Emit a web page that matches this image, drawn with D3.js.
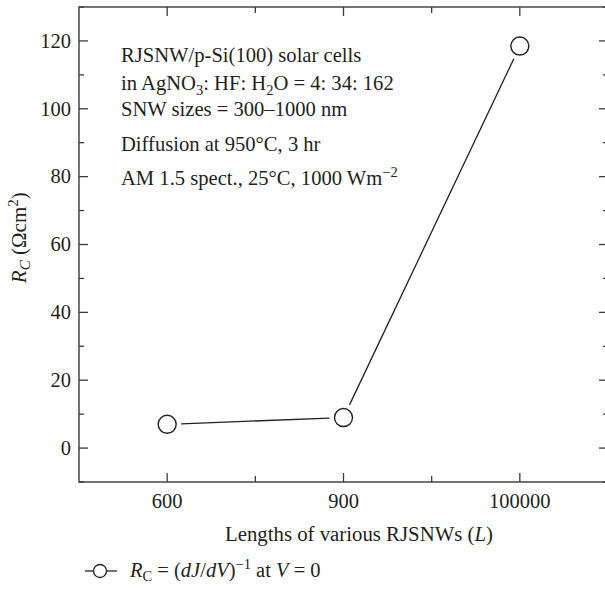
<!DOCTYPE html>
<html>
<head>
<meta charset="utf-8">
<script src="https://cdn.jsdelivr.net/npm/d3@7"></script>
<style>
  body { margin: 0; background: #fff; }
  svg { display: block; font-family: "Liberation Serif", "DejaVu Serif", serif; }
</style>
</head>
<body>
<div id="chart"></div>
<script>
// DATA
const lengths = ["600", "900", "100000"];
const rcValues = [7, 9, 118.5];
const yTicks = [0, 20, 40, 60, 80, 100, 120];
const yMinor = [-10, 10, 30, 50, 70, 90, 110, 130];
const notes = [
    [["RJSNW/p-Si(100) solar cells", 0]],
    [["in AgNO", 0], ["3", 1], [": HF: H", 0], ["2", 1], ["O = 4: 34: 162", 0]],
    [["SNW sizes = 300\u20131000 nm", 0]],
    [["Diffusion at 950\u00b0C, 3 hr", 0]],
    [["AM 1.5 spect., 25\u00b0C, 1000 Wm", 0], ["\u22122", -1]]
];
const noteBaselines = [62, 90, 116, 151, 185];

// DRAWING SETUP
const W = 605, H = 592;
const margin = {top: 7, left: 79, bottom: 110, right: -3};
const ink = "#231f20";

const svg = d3.select("#chart").append("svg")
    .attr("width", W)
    .attr("height", H);

const x = d3.scalePoint()
    .domain(lengths)
    .range([margin.left, W - margin.right])
    .padding(0.5);

const y = d3.scaleLinear()
    .domain([-10, 130])
    .range([H - margin.bottom, margin.top]);

const x0 = margin.left, x1 = W - margin.right;
const y0 = H - margin.bottom, y1 = margin.top;

// frame
svg.append("rect")
    .attr("x", x0).attr("y", y1)
    .attr("width", x1 - x0).attr("height", y0 - y1)
    .attr("fill", "none")
    .attr("stroke", "#3a3a3a")
    .attr("stroke-width", 1.4);

// x minor tick positions (midpoints between categories)
const xMinor = d3.pairs(lengths).map(([a, b]) => (x(a) + x(b)) / 2);

function tickLine(x1_, y1_, x2_, y2_) {
    svg.append("line")
        .attr("x1", x1_).attr("y1", y1_)
        .attr("x2", x2_).attr("y2", y2_)
        .attr("stroke", "#3a3a3a")
        .attr("stroke-width", 1.3);
}

// y ticks, inward on both sides
for (let v of yTicks) {
    tickLine(x0, y(v), x0 + 9, y(v));
    tickLine(x1, y(v), x1 - 9, y(v));
}
for (let v of yMinor) {
    tickLine(x0, y(v), x0 + 5, y(v));
    tickLine(x1, y(v), x1 - 5, y(v));
}
// x ticks, inward on top and bottom
for (let c of lengths) {
    tickLine(x(c), y0, x(c), y0 - 9);
    tickLine(x(c), y1, x(c), y1 + 9);
}
for (let m of xMinor) {
    tickLine(m, y0, m, y0 - 6);
    tickLine(m, y1, m, y1 + 6);
}

// tick labels
svg.append("g")
    .selectAll("text")
    .data(yTicks)
    .enter().append("text")
    .attr("x", x0 - 8)
    .attr("y", d => y(d))
    .attr("dy", "0.33em")
    .attr("text-anchor", "end")
    .attr("font-size", 20.5)
    .attr("fill", ink)
    .text(d => d);

svg.append("g")
    .selectAll("text")
    .data(lengths)
    .enter().append("text")
    .attr("x", d => x(d))
    .attr("y", 508)
    .attr("text-anchor", "middle")
    .attr("font-size", 20.5)
    .attr("fill", ink)
    .text(d => d);

// axis titles
const xt = svg.append("text")
    .attr("x", 359)
    .attr("y", 541)
    .attr("text-anchor", "middle")
    .attr("font-size", 20.8)
    .attr("fill", ink);
xt.append("tspan").text("Lengths of various RJSNWs (");
xt.append("tspan").attr("font-style", "italic").text("L");
xt.append("tspan").text(")");

const yt = svg.append("text")
    .attr("transform", `translate(26, ${y(62)}) rotate(-90)`)
    .attr("text-anchor", "middle")
    .attr("font-size", 21)
    .attr("fill", ink);
yt.append("tspan").attr("font-style", "italic").text("R");
yt.append("tspan").attr("font-style", "italic").attr("font-size", 15).attr("dy", 4).text("C");
yt.append("tspan").attr("dy", -4).text(" (\u03a9cm");
yt.append("tspan").attr("font-size", 15).attr("dy", -8).text("2");
yt.append("tspan").attr("dy", 8).text(")");

// annotation block
notes.forEach((parts, i) => {
    const t = svg.append("text")
        .attr("x", 121)
        .attr("y", noteBaselines[i])
        .attr("font-size", 20.6)
        .attr("fill", ink);
    let shift = 0;
    for (let [str, pos] of parts) {
        const target = pos === 1 ? 5 : pos === -1 ? -8 : 0;
        t.append("tspan")
            .attr("dy", target - shift)
            .attr("font-size", pos === 0 ? 20.6 : 14.5)
            .text(str);
        shift = target;
    }
});

// series: segments stop short of the markers
const r = 9;
const pts = lengths.map((c, i) => ({x: x(c), y: y(rcValues[i])}));
for (let [a, b] of d3.pairs(pts)) {
    const dx = b.x - a.x, dy = b.y - a.y;
    const len = Math.hypot(dx, dy);
    const g = r + 5;
    svg.append("line")
        .attr("x1", a.x + dx / len * g).attr("y1", a.y + dy / len * g)
        .attr("x2", b.x - dx / len * g).attr("y2", b.y - dy / len * g)
        .attr("stroke", ink)
        .attr("stroke-width", 1.3);
}
svg.append("g")
    .selectAll("circle")
    .data(pts)
    .enter().append("circle")
    .attr("cx", d => d.x)
    .attr("cy", d => d.y)
    .attr("r", r)
    .attr("fill", "#fff")
    .attr("stroke", ink)
    .attr("stroke-width", 1.4);

// legend
const ly = 571;
svg.append("line")
    .attr("x1", 85).attr("x2", 117)
    .attr("y1", ly).attr("y2", ly)
    .attr("stroke", ink).attr("stroke-width", 1.3);
svg.append("circle")
    .attr("cx", 100).attr("cy", ly).attr("r", 6.5)
    .attr("fill", "#fff").attr("stroke", ink).attr("stroke-width", 1.3);

const lt = svg.append("text")
    .attr("x", 130)
    .attr("y", 577)
    .attr("font-size", 20.5)
    .attr("fill", ink);
lt.append("tspan").attr("font-style", "italic").text("R");
lt.append("tspan").attr("font-size", 14.5).attr("dy", 4).text("C");
lt.append("tspan").attr("dy", -4).text(" = (");
lt.append("tspan").attr("font-style", "italic").text("dJ");
lt.append("tspan").text("/");
lt.append("tspan").attr("font-style", "italic").text("dV");
lt.append("tspan").text(")");
lt.append("tspan").attr("font-size", 14.5).attr("dy", -8).text("\u22121");
lt.append("tspan").attr("dy", 8).text(" at ");
lt.append("tspan").attr("font-style", "italic").text("V");
lt.append("tspan").text(" = 0");
</script>
</body>
</html>
